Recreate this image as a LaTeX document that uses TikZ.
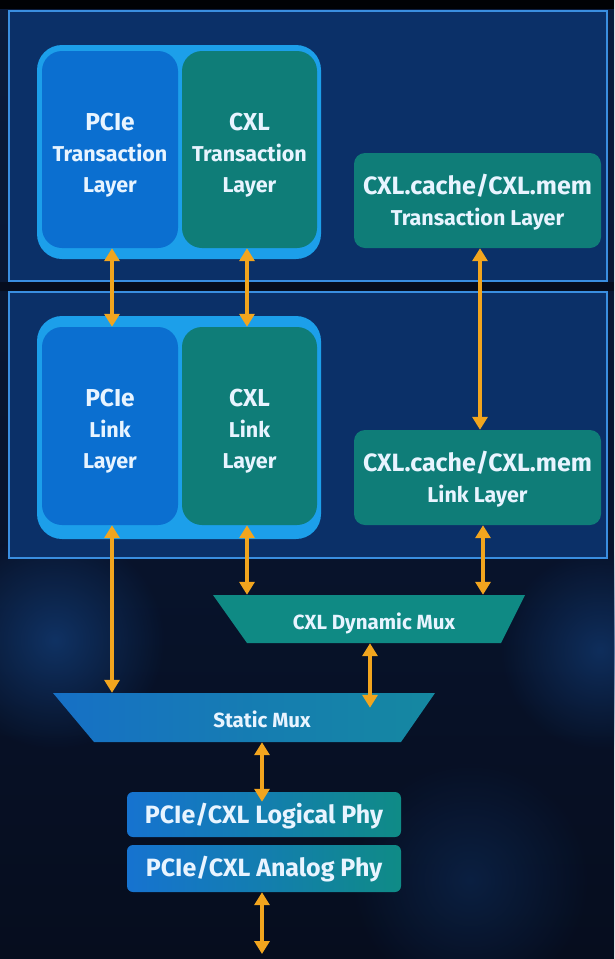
\documentclass[tikz,border=0pt]{standalone}
\usepackage{fontspec}
\setmainfont{Fira Sans}
\usetikzlibrary{arrows.meta,fadings}

\definecolor{bgA}{HTML}{0A1C3E}
\definecolor{bgB}{HTML}{060D1E}
\definecolor{glow}{HTML}{123A72}
\definecolor{panelfill}{HTML}{0B3068}
\definecolor{panelline}{HTML}{3A8EE0}
\definecolor{groupglow}{HTML}{1C9FEA}
\definecolor{pcieblue}{HTML}{0B6FD0}
\definecolor{cxlteal}{HTML}{0F7D78}
\definecolor{muxteal}{HTML}{0F8A84}
\definecolor{muxblueL}{HTML}{1670C6}
\definecolor{muxblueR}{HTML}{1588A0}
\definecolor{phyblue}{HTML}{1673D0}
\definecolor{phyteal}{HTML}{0F8B86}
\definecolor{arrowc}{HTML}{F2A51E}
\definecolor{txt}{HTML}{E8F4FF}

\tikzfading[name=softglow, inner color=transparent!0, outer color=transparent!100]

\tikzset{
  block/.style={rounded corners=20pt, text=txt, align=center, inner sep=0pt,
                font=\bfseries\fontsize{21.5}{31}\selectfont},
  pciebox/.style={block, fill=pcieblue},
  cxlbox/.style={block, fill=cxlteal},
  wide/.style={rounded corners=11pt, fill=cxlteal, text=txt, align=center, inner sep=0pt,
               font=\bfseries\fontsize{21.5}{31}\selectfont},
  phybox/.style={rounded corners=6pt, left color=phyblue, right color=phyteal, middle color=phyblue!55!phyteal,
                 text=txt, inner sep=0pt, font=\bfseries\fontsize{25}{28}\selectfont,
                 minimum width=274pt},
  muxlabel/.style={text=txt, inner sep=0pt, font=\bfseries\fontsize{20.5}{24}\selectfont},
  conn/.style={draw=arrowc, line width=3.6pt, {Triangle[length=13pt,width=15pt]}-{Triangle[length=13pt,width=15pt]}},
}
% first line of a stacked block label, with extra head room
\newcommand{\headline}[2]{\rule{0pt}{#1}{\bfseries\fontsize{24.5}{31}\selectfont #2}}
\newcommand{\lowered}[2]{\raisebox{-#1}[\height][\depth]{#2}}

\begin{document}
\begin{tikzpicture}[x=1pt,y=-1pt]
  % canvas
  \useasboundingbox (0,0) rectangle (614,959);
  \fill[top color=bgA, bottom color=bgB] (0,0) rectangle (614,959);
  \fill[black!85!bgB] (0,0) rectangle (614,9);
  \fill[bgB] (0,282) rectangle (614,291);

  % faint glows in the lower background
  \fill[glow, path fading=softglow, opacity=0.8] (55,640) circle (110pt);
  \fill[glow, path fading=softglow, opacity=0.7] (600,650) circle (100pt);
  \fill[glow, path fading=softglow, opacity=0.4] (470,880) circle (120pt);

  % layer panels
  \draw[panelline, line width=2.5pt, fill=panelfill] (9,11) rectangle (607,281);
  \draw[panelline, line width=2.5pt, fill=panelfill] (9,292) rectangle (607,558);

  % transaction layer blocks
  \fill[groupglow, rounded corners=25pt] (37,45) rectangle (321,259);
  \node[pciebox, minimum width=136pt, minimum height=197pt] (pcieT) at (110,149.5)
     {\headline{28pt}{PCIe}\\Transaction\\Layer};
  \node[cxlbox, minimum width=135pt, minimum height=197pt] (cxlT) at (249.5,149.5)
     {\headline{28pt}{CXL}\\Transaction\\Layer};
  \node[wide, minimum width=247pt, minimum height=95pt] (cacheT) at (477.5,200.5)
     {\rule{0pt}{24pt}{\bfseries\fontsize{25}{31}\selectfont CXL.cache/CXL.mem}\\Transaction Layer};

  % link layer blocks
  \fill[groupglow, rounded corners=25pt] (37,316) rectangle (321,539);
  \node[pciebox, minimum width=136pt, minimum height=198pt] (pcieL) at (110,426)
     {\headline{28pt}{PCIe}\\Link\\Layer};
  \node[cxlbox, minimum width=135pt, minimum height=198pt] (cxlL) at (249.5,426)
     {\headline{28pt}{CXL}\\Link\\Layer};
  \node[wide, minimum width=247pt, minimum height=95pt] (cacheL) at (477.5,477.5)
     {\rule{0pt}{24pt}{\bfseries\fontsize{25}{31}\selectfont CXL.cache/CXL.mem}\\Link Layer};

  % multiplexers
  \fill[muxteal] (213,595) -- (525,595) -- (501,643) -- (247,643) -- cycle;
  \node[muxlabel, minimum height=48pt] (dmux) at (370,619) {\lowered{4pt}{\hspace*{8pt}CXL Dynamic Mux}};
  \shade[left color=muxblueL, right color=muxblueR] (53,693) -- (435,693) -- (401,742) -- (94,742) -- cycle;
  \node[muxlabel, minimum height=49pt] (smux) at (262,717.5) {\lowered{2pt}{Static Mux}};

  % physical layer
  \node[phybox, minimum height=45pt] (logphy) at (264,814.5) {\lowered{1.5pt}{PCIe/CXL Logical Phy}};
  \node[phybox, minimum height=47pt] (anaphy) at (264,868.5) {\lowered{1pt}{PCIe/CXL Analog Phy}};
  \coordinate (link) at (262,954);

  % connectors
  \draw[conn] ([xshift=2pt]pcieT.south) -- ([xshift=2pt]pcieL.north);
  \draw[conn] ([xshift=-2.5pt]cxlT.south) -- ([xshift=-2.5pt]cxlL.north);
  \draw[conn] ([xshift=2.5pt]cacheT.south) -- ([xshift=2.5pt]cacheL.north);
  \draw[conn] ([xshift=2pt]pcieL.south) -- ([xshift=2pt]pcieL.south |- smux.north);
  \draw[conn] ([xshift=-2.5pt]cxlL.south) -- ([xshift=-2.5pt]cxlL.south |- dmux.north);
  \draw[conn] ([xshift=5.5pt]cacheL.south) -- ([xshift=5.5pt]cacheL.south |- dmux.north);
  \draw[conn, shorten >=-15pt] (dmux.south) -- (dmux.south |- smux.north);
  \draw[conn, shorten >=-10pt] (smux.south) -- (smux.south |- logphy.north);
  \draw[conn] ([xshift=-2pt]anaphy.south) -- (link);
\end{tikzpicture}
\end{document}
